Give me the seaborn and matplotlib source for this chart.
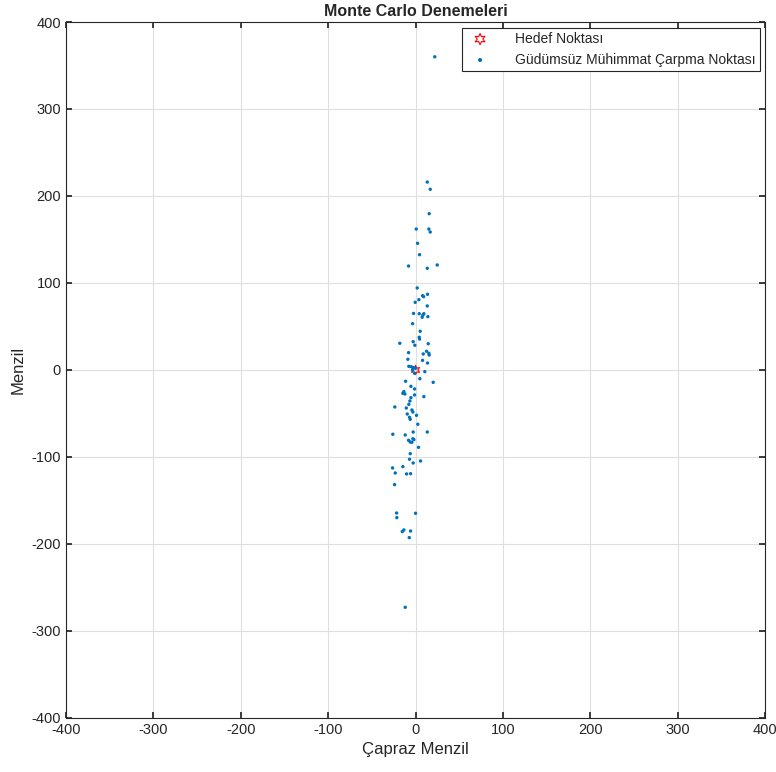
import seaborn as sns
import matplotlib.pyplot as plt
import pandas as pd

# Impact points (cross range, range)
capraz = [22, 13.4, 16.8, 15.6, 0.8, 15.2, 16.8, 2.3, 4.6, -8, 13.4, 24.8,
          1.9, 8, 9.2, 13.7, -0.4, 3.8, 13.4, -2.3, 4.2, 8.4, 9.5, 14.1, 7.6,
          -3.4, 5.3, 4.2, 4.6, -18, -2.7, -0.8, 14.5, -8, 8.8, 12.6, 15.2,
          15.6, -8.8, 8, 13.7, -7.7, -4.9, -2.3, 0, -3.4, -1.1, 10.6, 4.9,
          -11.4, 20.2, -5.3, -1.1, -13.4, -14.5, -12.2, -1.1, 9.5, -5.3, -6.5,
          -7.7, -23.7, -10.6, -4.2, -3.1, -9.5, 1.1, -6.9, -6.1, 2.6, -26,
          -11.8, -2.7, 13.4, -3.1, -8, -6.1, -4.2, -1.9, 3.4, -6.1, -6.9,
          -2.7, 5.7, -26.3, -23.2, -14.5, -10.3, -5.7, -24, -21.7, -21.4, 0,
          -15.2, -13.4, -5.7, -7.2, -11.8]
menzil = [360, 216, 207.7, 179.7, 162, 162, 158.6, 145.6, 132.5, 119.5, 116.9,
          120.7, 94.3, 85.4, 84.3, 87, 77.8, 80.8, 73.6, 65, 64.7, 63.2, 64.7,
          61.3, 60.6, 53.2, 44.5, 37.6, 35.6, 30.7, 32.5, 28.4, 30.2, 19.9,
          18.4, 21.5, 19.2, 17.2, 12.3, 11.1, 8, 4.2, 3.8, 2.7, 1.9, 0, -3.8,
          -1.9, -10, -13, -14.2, -18.8, -21.8, -24.9, -26.8, -27.6, -28.7,
          -30.6, -31.8, -35.6, -39.5, -42.5, -43.7, -46, -48.3, -50.6, -52.1,
          -54.4, -56.7, -62.4, -73.9, -74.7, -71.3, -71.3, -79, -80.8, -82.8,
          -83.1, -80.1, -88.9, -96.2, -102.6, -106.9, -104.6, -112.6, -118.4,
          -111.1, -119.5, -119.2, -131.8, -164.4, -169.7, -164.7, -185.8,
          -183.9, -185.1, -192.7, -272.8]
hedef_x = [0]
hedef_y = [0]

df = pd.DataFrame({'Çapraz Menzil': capraz, 'Menzil': menzil})

sns.set_theme(style='ticks')
plt.rcParams['font.family'] = ['Liberation Sans', 'DejaVu Sans']
plt.rcParams['axes.unicode_minus'] = False

fig = plt.figure(figsize=(7.76, 7.72), dpi=100)
ax = fig.add_axes([0.085, 0.070, 0.901, 0.9015])

# target point (hexagram)
ax.scatter(hedef_x, hedef_y, marker=(6, 1, 0), s=45, facecolors='none',
           edgecolors='#FF0000', linewidths=0.8, label='Hedef Noktası', zorder=3)
sns.scatterplot(data=df, x='Çapraz Menzil', y='Menzil', ax=ax, s=6,
                color='#0072BD', edgecolor='none',
                label='Güdümsüz Mühimmat Çarpma Noktası', zorder=3)

ax.set_xlim(-400, 400)
ax.set_ylim(-400, 400)
ax.set_xticks(range(-400, 401, 100))
ax.set_yticks(range(-400, 401, 100))
ax.grid(True, color='#dfdfdf', linewidth=0.8)
ax.set_axisbelow(True)
for s in ax.spines.values():
    s.set_color('#262626')
    s.set_linewidth(0.8)
ax.tick_params(direction='in', length=4, top=True, right=True,
               labelsize=10.5, color='#262626', labelcolor='#262626')

ax.set_title('Monte Carlo Denemeleri', fontsize=11.5, fontweight='bold', pad=4)
ax.set_xlabel('Çapraz Menzil', fontsize=12, color='#262626')
ax.set_ylabel('Menzil', fontsize=12, color='#262626')

leg = ax.legend(loc='upper right', fontsize=10, frameon=True, fancybox=False,
                edgecolor='#262626', framealpha=1, borderaxespad=0.4,
                handletextpad=1.5, markerscale=1.2, borderpad=0.3)
leg.get_frame().set_linewidth(0.8)

plt.savefig('out.png', dpi=100)
